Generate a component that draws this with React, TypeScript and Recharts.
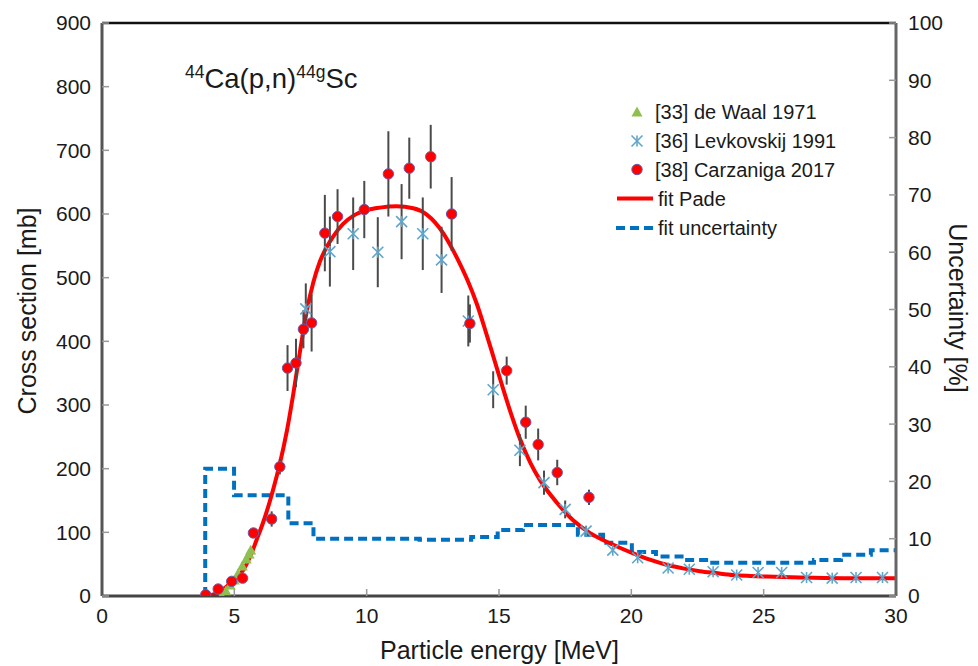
import React from 'react';
import {
  ComposedChart, Line, Scatter, XAxis, YAxis, ErrorBar, ReferenceLine, Customized,
} from 'recharts';

// ---------- data ----------
const deWaalE = [4.52, 4.68, 4.84, 5.0, 5.14, 5.3, 5.45, 5.56, 5.62];
const deWaalXS = [0, 8, 17, 25, 35, 47, 58, 66, 72];

const levE = [7.70, 8.61, 9.49, 10.42, 11.32, 12.12, 12.83, 13.84, 14.78, 15.79, 16.70, 17.50, 18.29, 19.30, 20.24, 21.39, 22.19, 23.09, 23.98, 24.79, 25.68, 26.62, 27.59, 28.49, 29.49];
const levXS = [451, 541, 569, 540, 588, 569, 528, 432, 324, 229, 178, 136, 102, 72, 60, 44, 42, 38, 33, 37, 37, 29, 28, 29, 29];
const levErr = [40, 55, 57, 55, 59, 57, 52, 40, 29, 25, 19, 14, 8, 0, 0, 0, 0, 0, 0, 0, 0, 0, 0, 0, 0];

const carE = [3.92, 4.39, 4.9, 5.31, 5.72, 6.41, 6.72, 7.01, 7.33, 7.61, 7.92, 8.42, 8.9, 9.91, 10.82, 11.61, 12.42, 13.21, 13.9, 15.29, 16.01, 16.48, 17.2, 18.4];
const carXS = [2, 11, 23, 28, 99, 121, 203, 358, 366, 419, 429, 570, 596, 607, 663, 672, 690, 600, 428, 354, 273, 238, 194, 155];
const carErr = [0, 4, 5, 6, 6, 12, 12, 36, 38, 30, 45, 60, 43, 45, 67, 48, 50, 58, 30, 22, 26, 25, 20, 12];

const fitE = [3.89, 4.08, 4.4, 4.71, 5.0, 5.34, 5.6, 5.84, 6.1, 6.35, 6.6, 6.72, 6.98, 7.23, 7.48, 7.73, 7.98, 8.23, 8.5, 8.74, 9.1, 9.49, 10.0, 10.5, 11.13, 11.76, 12.27, 12.89, 13.2, 13.52, 13.85, 14.16, 14.5, 14.78, 15.1, 15.45, 15.79, 16.2, 16.55, 17.18, 17.8, 18.4, 18.87, 19.5, 20.07, 20.7, 21.33, 22.0, 22.59, 23.2, 23.85, 24.5, 25.11, 26.37, 28.0, 30.0];
const fitXS = [0, 1, 6, 15, 26, 41, 62, 88, 117, 150, 188, 208, 258, 318, 384, 446, 492, 525, 549, 565, 584, 597, 606, 610, 612, 609, 599, 570, 548, 522, 492, 459, 415, 377, 333, 287, 247, 208, 182, 147, 119, 100, 89, 77, 67, 57, 49, 43, 39, 36, 33, 31.5, 30.5, 29, 28, 28];

const uncE = [3.9, 3.9, 4.99, 7.04, 7.99, 12.0, 13.95, 14.95, 15.9, 17.98, 18.93, 20.02, 20.93, 21.99, 22.93, 26.9, 27.92, 29.05, 30.0];
const uncPct = [0, 22.2, 17.6, 12.7, 10.0, 9.8, 10.3, 11.5, 12.4, 10.7, 9.3, 7.7, 6.9, 6.3, 5.8, 6.3, 7.2, 8.0, 8.0];

const xTicks = [0, 5, 10, 15, 20, 25, 30];
const yLeftTicks = [0, 100, 200, 300, 400, 500, 600, 700, 800, 900];
const yRightTicks = [0, 10, 20, 30, 40, 50, 60, 70, 80, 90, 100];

const legendNames = ['[33] de Waal 1971', '[36] Levkovskij 1991', '[38] Carzaniga 2017', 'fit Pade', 'fit uncertainty'];

// ---------- tables ----------
const deWaal = deWaalE.map((x, i) => ({ x, y: deWaalXS[i] }));
const lev = levE.map((x, i) => ({ x, y: levXS[i], err: levErr[i] }));
const car = carE.map((x, i) => ({ x, y: carXS[i], err: carErr[i] }));
const fit = fitE.map((x, i) => ({ x, y: fitXS[i] }));
const unc = uncE.map((x, i) => ({ x, u: uncPct[i] }));

const FONT = '"Liberation Sans", Arial, sans-serif';
const RED = '#FF0000';
const BLUE = '#0070C0';
const GREEN = '#8DC04E';
const CYAN = '#5FA6CB';
const CIRCLE_EDGE = '#6A5AA8';

const Triangle = (p: any) => {
  const { cx, cy } = p;
  if (cx == null || cy == null) return null;
  const r = 5.5;
  return <polygon points={`${cx},${cy - r} ${cx - r},${cy + r * 0.8} ${cx + r},${cy + r * 0.8}`} fill={GREEN} />;
};
const Asterisk = (p: any) => {
  const { cx, cy } = p;
  if (cx == null || cy == null) return null;
  const r = 5.5;
  return (
    <g stroke={CYAN} strokeWidth={1.6}>
      <line x1={cx - r} y1={cy - r} x2={cx + r} y2={cy + r} />
      <line x1={cx - r} y1={cy + r} x2={cx + r} y2={cy - r} />
      <line x1={cx} y1={cy - r} x2={cx} y2={cy + r} />
    </g>
  );
};
const Dot = (p: any) => {
  const { cx, cy } = p;
  if (cx == null || cy == null) return null;
  return <circle cx={cx} cy={cy} r={5.2} fill={RED} stroke={CIRCLE_EDGE} strokeWidth={1} />;
};

const Decorations = () => {
  const rows = [104, 133, 161.5, 190.5, 220];
  const iconX = 629;
  const textX = 650;
  return (
    <g fontFamily={FONT} fill="#1a1a1a">
      {/* title */}
      <text x={177} y={80} fontSize={27.5}>
        <tspan fontSize={17.5} dy={-10}>44</tspan>
        <tspan dy={10}>Ca(p,n)</tspan>
        <tspan fontSize={17.5} dy={-10}>44g</tspan>
        <tspan dy={10}>Sc</tspan>
      </text>
      {/* axis titles */}
      <text x={491.5} y={642} fontSize={25} textAnchor="middle" dominantBaseline="central">Particle energy [MeV]</text>
      <text x={19} y={303} fontSize={25} textAnchor="middle" dominantBaseline="central" transform="rotate(-90 19 303)">Cross section [mb]</text>
      <text x={950} y={300} fontSize={25} textAnchor="middle" dominantBaseline="central" transform="rotate(90 950 300)">Uncertainty [%]</text>
      {/* legend */}
      <Triangle cx={iconX} cy={rows[0]} />
      <Asterisk cx={iconX} cy={rows[1]} />
      <Dot cx={iconX} cy={rows[2]} />
      <line x1={609} x2={645} y1={rows[3]} y2={rows[3]} stroke={RED} strokeWidth={4} />
      <line x1={608} x2={645} y1={rows[4]} y2={rows[4]} stroke={BLUE} strokeWidth={4} strokeDasharray="9 5" />
      {legendNames.map((n, i) => (
        <text key={n} x={i < 3 ? textX - 3 : textX} y={rows[i]} fontSize={20} dominantBaseline="central">{n}</text>
      ))}
    </g>
  );
};

export default function App() {
  return (
    <ComposedChart
      width={970}
      height={658}
      margin={{ top: 15, right: 22, bottom: 30, left: 34 }}
      style={{ fontFamily: FONT }}
    >
      <XAxis
        dataKey="x"
        type="number"
        domain={[0, 30]}
        ticks={xTicks}
        allowDataOverflow
        height={40}
        tickSize={-7}
        tickMargin={19}
        tick={{ fill: '#1a1a1a', fontSize: 21, fontFamily: FONT }}
        tickLine={{ stroke: '#999', strokeWidth: 1.5 }}
        axisLine={{ stroke: '#444', strokeWidth: 3 }}
      />
      <YAxis
        yAxisId="l"
        type="number"
        domain={[0, 900]}
        ticks={yLeftTicks}
        allowDataOverflow
        width={60}
        tickSize={-7}
        tickMargin={18}
        tick={{ fill: '#1a1a1a', fontSize: 21, fontFamily: FONT }}
        tickLine={{ stroke: '#999', strokeWidth: 1.5 }}
        axisLine={{ stroke: '#555', strokeWidth: 3 }}
      />
      <YAxis
        yAxisId="r"
        orientation="right"
        type="number"
        domain={[0, 100]}
        ticks={yRightTicks}
        allowDataOverflow
        width={60}
        tickSize={-7}
        tickMargin={19}
        tick={{ fill: '#1a1a1a', fontSize: 21, fontFamily: FONT }}
        tickLine={{ stroke: '#999', strokeWidth: 1.5 }}
        axisLine={{ stroke: '#666', strokeWidth: 3 }}
      />
      <ReferenceLine yAxisId="l" y={900} stroke="#111" strokeWidth={2.5} />
      <Line
        yAxisId="r"
        data={unc}
        dataKey="u"
        type="stepAfter"
        stroke={BLUE}
        strokeWidth={4}
        strokeDasharray="9 5"
        dot={false}
        activeDot={false}
        isAnimationActive={false}
      />
      <Line
        yAxisId="l"
        data={fit}
        dataKey="y"
        type="monotone"
        stroke={RED}
        strokeWidth={4}
        dot={false}
        activeDot={false}
        isAnimationActive={false}
      />
      <Scatter yAxisId="l" data={deWaal} dataKey="y" shape={Triangle} isAnimationActive={false} />
      <Scatter yAxisId="l" data={lev} dataKey="y" shape={Asterisk} isAnimationActive={false}>
        <ErrorBar dataKey="err" direction="y" width={0} stroke="#4a4a4a" strokeWidth={2} />
      </Scatter>
      <Scatter yAxisId="l" data={car} dataKey="y" shape={Dot} isAnimationActive={false}>
        <ErrorBar dataKey="err" direction="y" width={0} stroke="#4a4a4a" strokeWidth={2} />
      </Scatter>
      <Customized component={Decorations} />
    </ComposedChart>
  );
}
